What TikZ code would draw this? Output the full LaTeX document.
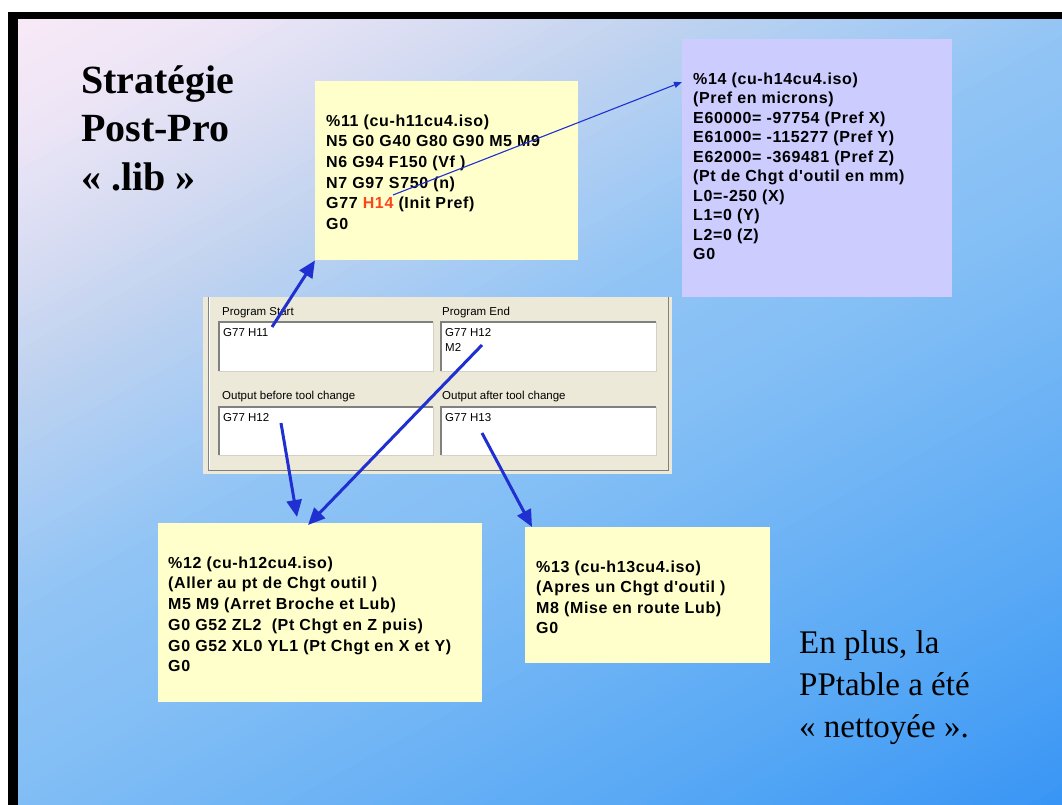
\documentclass[tikz,border=0pt]{standalone}
\usepackage{fontspec}
\setmainfont{Liberation Serif}
\newfontfamily\boxfont[LetterSpace=4]{Liberation Sans}
\newfontfamily\winfont{Liberation Sans}
\usetikzlibrary{arrows.meta}
\definecolor{boxyellow}{RGB}{255,255,204}
\definecolor{boxlavender}{RGB}{204,204,255}
\definecolor{arrowblue}{RGB}{32,48,208}
\definecolor{hred}{RGB}{250,70,30}
\definecolor{panelbeige}{RGB}{236,233,216}
\definecolor{fielddark}{RGB}{128,128,128}
\definecolor{fieldlight}{RGB}{212,208,200}
% background gradient stops (top-left -> bottom-right)
\definecolor{bgsA}{RGB}{252,234,246}
\definecolor{bgsB}{RGB}{236,229,246}
\definecolor{bgsC}{RGB}{215,220,242}
\definecolor{bgsD}{RGB}{190,210,240}
\definecolor{bgsE}{RGB}{165,203,244}
\definecolor{bgsF}{RGB}{145,196,245}
\definecolor{bgsG}{RGB}{130,190,245}
\definecolor{bgsH}{RGB}{82,165,245}
\definecolor{bgsI}{RGB}{55,148,245}
\tikzset{
  notebox/.style={fill=#1, inner sep=0pt, anchor=north west},
  codetext/.style={font=\boxfont\bfseries\fontsize{16}{#1}\selectfont, align=left, inner sep=0pt, anchor=north west},
  wintext/.style={font=\winfont\fontsize{11.5}{15}\selectfont, inner sep=0pt},
  field/.style={fill=white, inner sep=0pt, anchor=north west, minimum width=214pt, minimum height=48pt},
  fieldtl/.style={draw=fielddark, line width=1.5pt},
  fieldbr/.style={draw=fieldlight, line width=1.2pt},
  bigarrow/.style={draw=arrowblue, line width=3pt, -{Triangle[length=17pt,width=15pt]}},
  thinarrow/.style={draw=arrowblue, line width=1.1pt, -{Triangle[length=8pt,width=6pt]}},
}
\begin{document}
\begin{tikzpicture}[x=1pt,y=-1pt]
\useasboundingbox (0,0) rectangle (1062,805);
% frame and background
\fill[white] (0,0) rectangle (1062,805);
\fill[black] (8,12) rectangle (1062,805);
\begin{scope}
\clip (18,20) rectangle (1062,805);
\foreach \i in {0,...,139}{
  \pgfmathsetmacro{\sv}{\i*2+1}
  \pgfmathtruncatemacro{\bandk}{(\sv>30)+(\sv>55)+(\sv>80)+(\sv>105)+(\sv>125)+(\sv>160)+(\sv>240)}
  \pgfmathsetmacro{\ta}{{0,30,55,80,105,125,160,240}[\bandk]}
  \pgfmathsetmacro{\tb}{{30,55,80,105,125,160,240,280}[\bandk]}
  \pgfmathtruncatemacro{\bandp}{100*(\sv-\ta)/(\tb-\ta)}
  \edef\ka{\ifcase\bandk A\or B\or C\or D\or E\or F\or G\or H\fi}
  \edef\kb{\ifcase\bandk B\or C\or D\or E\or F\or G\or H\or I\fi}
  \colorlet{bandc}{bgs\kb!\bandp!bgs\ka}
  \pgfmathsetmacro{\ca}{\i*2}
  \pgfmathsetmacro{\cb}{\ca+2.4}
  \fill[bandc] (-50,{(\ca+5.5)*5}) -- (1100,{(\ca-121)*5}) -- (1100,{(\cb-121)*5}) -- (-50,{(\cb+5.5)*5}) -- cycle;
}
\end{scope}

% title
\node[font=\bfseries\fontsize{40}{48.5}\selectfont, align=left, inner sep=0pt, anchor=north west] (title) at (81,63)
  {\rule{0pt}{30pt}Stratégie\\Post-Pro\\« .lib »};

% note boxes
\node[notebox=boxyellow, minimum width=263pt, minimum height=179pt] (b11) at (315,81) {};
\node[notebox=boxlavender, minimum width=270pt, minimum height=258pt] (b14) at (682,39) {};
\node[notebox=boxyellow, minimum width=324pt, minimum height=179pt] (b12) at (158,523) {};
\node[notebox=boxyellow, minimum width=245pt, minimum height=136pt] (b13) at (525,527) {};

\node[codetext=20.6] (txt11) at (326,114)
  {\rule{0pt}{12pt}\%11 (cu-h11cu4.iso)\\N5 G0 G40 G80 G90 M5 M9\\N6 G94 F150 (Vf )\\N7 G97 S750 (n)\\G77 \textcolor{hred}{H14} (Init Pref)\\G0};
\node[codetext=19.5] (txt14) at (693,72)
  {\rule{0pt}{12pt}\%14 (cu-h14cu4.iso)\\(Pref en microns)\\E60000= -97754 (Pref X)\\E61000= -115277 (Pref Y)\\E62000= -369481 (Pref Z)\\(Pt de Chgt d'outil en mm)\\L0=-250 (X)\\L1=0 (Y)\\L2=0 (Z)\\G0};
\node[codetext=20.7] (txt12) at (168,556)
  {\rule{0pt}{12pt}\%12 (cu-h12cu4.iso)\\(Aller au pt de Chgt outil )\\M5 M9 (Arret Broche et Lub)\\G0 G52 ZL2\ \ (Pt Chgt en Z puis)\\G0 G52 XL0 YL1 (Pt Chgt en X et Y)\\G0};
\node[codetext=20.5] (txt13) at (536,560)
  {\rule{0pt}{12pt}\%13 (cu-h13cu4.iso)\\(Apres un Chgt d'outil )\\M8 (Mise en route Lub)\\G0};

% program window panel
\node[fill=panelbeige, inner sep=0pt, anchor=north west, minimum width=469pt, minimum height=177pt] (panel) at (203,297) {};
\draw[fielddark, line width=0.8pt] ([xshift=5pt]panel.north west) -- ([xshift=5pt,yshift=4pt]panel.south west) -- ([xshift=-4pt,yshift=4pt]panel.south east) -- ([xshift=-4pt]panel.north east);
\draw[white, line width=0.8pt] ([xshift=6pt]panel.north west) -- ([xshift=6pt,yshift=5pt]panel.south west);

\node[wintext, anchor=base west] (lstart) at (222,315) {Program Start};
\node[wintext, anchor=base west] (lend) at (442,315) {Program End};
\node[wintext, anchor=base west] (lbefore) at (222,399) {Output before tool change};
\node[wintext, anchor=base west] (lafter) at (442,399) {Output after tool change};

\node[field, minimum height=49pt] (fstart) at (219,322) {};
\node[field, minimum width=215pt, minimum height=49pt] (fend) at (441,322) {};
\node[field] (fbefore) at (219,407) {};
\node[field, minimum width=215pt] (fafter) at (441,407) {};
\foreach \f in {fstart,fend,fbefore,fafter}{
  \draw[fieldbr] (\f.south west) -- (\f.south east) -- (\f.north east);
  \draw[fieldtl] (\f.south west) -- (\f.north west) -- (\f.north east);
}
\node[wintext, anchor=base west] (vstart) at (223,336) {G77 H11};
\node[wintext, align=left, anchor=north west] (vend) at (445,327) {\rule{0pt}{9pt}G77 H12\\M2};
\node[wintext, anchor=base west] (vbefore) at (223,421) {G77 H12};
\node[wintext, anchor=base west] (vafter) at (445,421) {G77 H13};

% bottom-right remark
\node[font=\fontsize{33}{42}\selectfont, align=left, inner sep=0pt, anchor=north west] (remark) at (799,627)
  {\rule{0pt}{26pt}En plus, la\\PPtable a été\\« nettoyée ».};

% connectors
\coordinate (t1) at (272,327);
\coordinate (t2) at (482,345);
\coordinate (t3) at (281,423);
\coordinate (t4) at (482,433);
\coordinate (t5) at (393,195);
\draw[bigarrow] (t1) -- (b11.south west);
\draw[bigarrow] (t2) -- ([xshift=150pt,yshift=-2pt]b12.north west);
\draw[bigarrow] (t3) -- ([xshift=139pt,yshift=6pt]b12.north west);
\draw[bigarrow] (t4) -- ([xshift=7pt]b13.north west);
\draw[thinarrow] (t5) -- ([yshift=-43pt]b14.north west);
\end{tikzpicture}
\end{document}
